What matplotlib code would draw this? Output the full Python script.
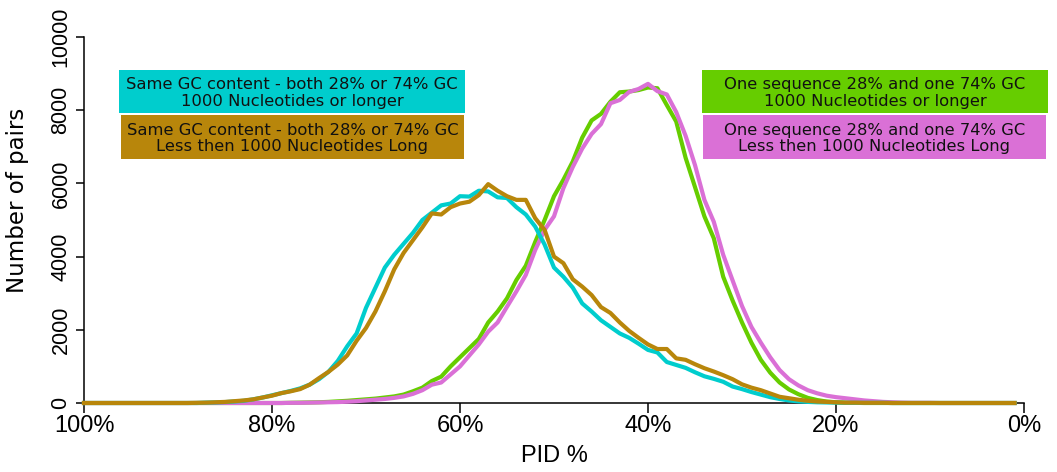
import matplotlib
matplotlib.use("Agg")
import matplotlib.pyplot as plt
from matplotlib import font_manager
from matplotlib.patches import Rectangle

# PID bins (percent identity), 100% on the left down to 1%
pid = list(range(100, 0, -1))

same_long = [0] * 13 + [
    10, 15, 25, 40, 60, 100, 150, 210, 270, 330, 400, 500, 650, 850, 1150, 1550,
    1900, 2600, 3150, 3700, 4050, 4350, 4650, 5000, 5200, 5400, 5450, 5650, 5640,
    5800, 5780, 5620, 5600, 5350, 5150, 4820, 4330, 3700, 3450, 3150, 2720, 2500,
    2260, 2080, 1900, 1780, 1620, 1450, 1380, 1120, 1040, 960, 840, 730, 660, 580,
    450, 380, 300, 230, 160, 110, 70, 45, 30, 20, 15, 10,
] + [5, 5, 5, 5, 5] + [0] * 14

same_short = [0] * 12 + [
    5, 10, 20, 30, 50, 70, 100, 150, 200, 270, 320, 380, 500, 680, 850, 1050, 1300,
    1700, 2050, 2500, 3050, 3650, 4100, 4450, 4800, 5180, 5150, 5350, 5450, 5500,
    5680, 5980, 5800, 5650, 5550, 5550, 5050, 4730, 4000, 3820, 3380, 3180, 2950,
    2620, 2460, 2200, 1970, 1780, 1600, 1475, 1475, 1220, 1180, 1060, 950, 860,
    760, 650, 510, 420, 350, 260, 170, 130, 90, 60, 40, 30, 20,
] + [10, 10, 5, 5, 5] + [0] * 14

diff_long = [0] * 22 + [
    5, 10, 15, 20, 30, 45, 60, 80, 100, 120, 150, 180, 230, 320, 420, 600, 720,
    1000, 1250, 1500, 1750, 2200, 2500, 2860, 3360, 3750, 4400, 5000, 5650, 6100,
    6600, 7250, 7720, 7900, 8230, 8490, 8510, 8550, 8620, 8600, 8140, 7690, 6700,
    5900, 5100, 4500, 3450, 2800, 2200, 1650, 1180, 830, 560, 370, 240, 140, 80,
    40, 20, 10, 5,
] + [0] * 17

diff_short = [0] * 22 + [
    5, 5, 10, 15, 20, 25, 35, 50, 70, 90, 110, 140, 180, 250, 350, 500, 560, 780,
    1000, 1300, 1600, 1950, 2200, 2630, 3050, 3500, 4180, 4730, 5100, 5870, 6450,
    6950, 7350, 7620, 8190, 8280, 8500, 8580, 8720, 8520, 8430, 7950, 7300, 6500,
    5550, 4950, 4050, 3350, 2650, 2080, 1650, 1250, 900, 650, 480, 350, 265, 200,
    160, 130, 100, 70, 50, 30, 20, 10,
] + [5, 5, 5] + [0] * 9

x_ticks = [100, 80, 60, 40, 20, 0]
x_labels = ["100%", "80%", "60%", "40%", "20%", "0%"]
y_ticks = [0, 2000, 4000, 6000, 8000, 10000]

labels = [
    "Same GC content - both 28% or 74% GC\n1000 Nucleotides or longer",
    "Same GC content - both 28% or 74% GC\nLess then 1000 Nucleotides Long",
    "One sequence 28% and one 74% GC\n1000 Nucleotides or longer",
    "One sequence 28% and one 74% GC\nLess then 1000 Nucleotides Long",
]
colors = ["#00CDCD", "#B8860B", "#66CD00", "#DA70D6"]


def has_font(name):
    try:
        font_manager.findfont(font_manager.FontProperties(family=name),
                              fallback_to_default=False)
        return True
    except ValueError:
        return False


# the original axis text is a condensed Helvetica; narrow face if available
if has_font("Liberation Sans Narrow"):
    axis_font, xt_size, yt_size, xl_size = "Liberation Sans Narrow", 19, 17.5, 19.5
else:
    axis_font, xt_size, yt_size, xl_size = "Liberation Sans", 17, 15.5, 17

W, H = 1057, 472
fig = plt.figure(figsize=(W / 100, H / 100), dpi=100)
ax = fig.add_axes([84 / W, 69 / H, 940 / W, 366 / H])

# draw order: green, pink, cyan, brown (brown ends up on top)
for vals, c in [(diff_long, colors[2]), (diff_short, colors[3]),
                (same_long, colors[0]), (same_short, colors[1])]:
    ax.plot(pid, vals, color=c, lw=3, clip_on=False, zorder=3)

ax.set_xlim(100, 0)
ax.set_ylim(0, 10000)
for s in ["top", "right"]:
    ax.spines[s].set_visible(False)
for s in ["left", "bottom"]:
    ax.spines[s].set_linewidth(1.1)
    ax.spines[s].set_zorder(2)

ax.set_xticks(x_ticks)
ax.set_xticklabels(x_labels, fontfamily=axis_font, fontsize=xt_size)
ax.set_yticks(y_ticks)
ax.set_yticklabels([str(v) for v in y_ticks], fontfamily=axis_font, fontsize=yt_size,
                   rotation=90, va="center")
ax.tick_params(axis="x", length=7.5, width=1.1, pad=1.5)
ax.tick_params(axis="y", length=6, width=1.1, pad=3)

ax.set_xlabel("PID %", fontfamily=axis_font, fontsize=xl_size)
ax.xaxis.set_label_coords(0.5, (403 - 445) / 366)
ax.set_ylabel("Number of pairs", fontfamily="DejaVu Sans", fontsize=16.5)
ax.yaxis.set_label_coords((29 - 84) / 940, (403 - 200) / 366)

# legend boxes (pixel layout from the top-left corner)
boxes = [(119, 465, 70, 113), (121, 464, 115, 159),
         (702, 1048, 70, 113), (703, 1046, 115, 159)]
for (x0, x1, y0, y1), lab, c in zip(boxes, labels, colors):
    fig.patches.append(Rectangle((x0 / W, 1 - y1 / H), (x1 - x0) / W, (y1 - y0) / H,
                                 transform=fig.transFigure, facecolor=c,
                                 edgecolor="none", zorder=5))
    fig.text((x0 + x1) / 2 / W, 1 - ((y0 + y1) / 2 + 1.5) / H, lab,
             ha="center", va="center", fontsize=11.8, linespacing=1.1,
             fontfamily="DejaVu Sans", color="#111111", zorder=6)

fig.savefig("out.png", dpi=100)
